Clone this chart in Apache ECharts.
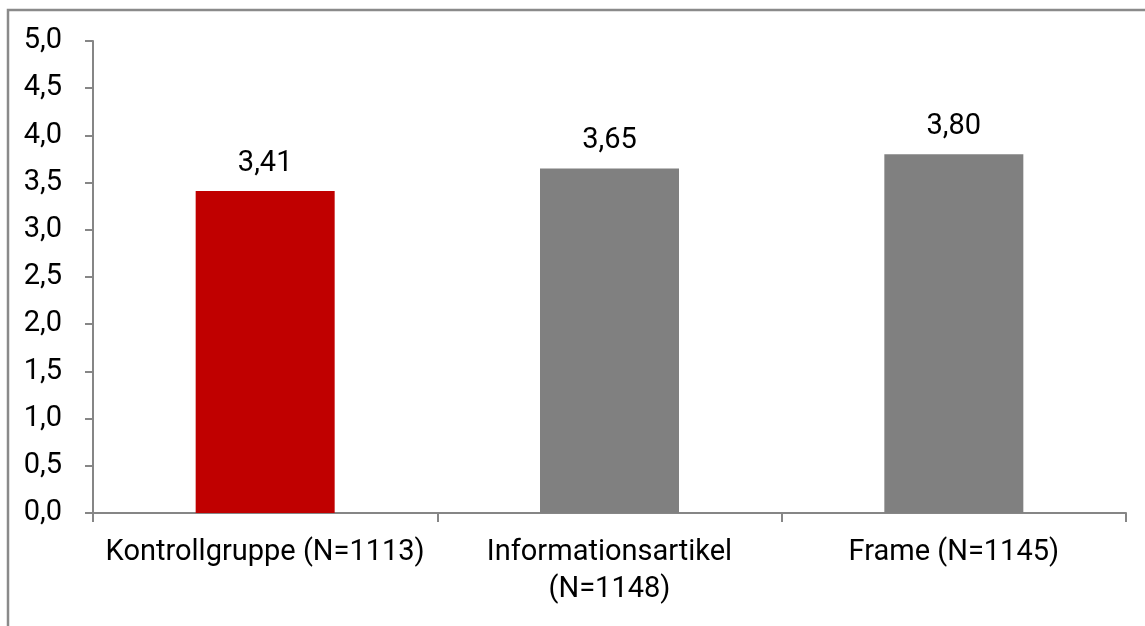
<!DOCTYPE html>
<html><head><meta charset="utf-8">
<script src="https://cdn.jsdelivr.net/npm/echarts@6/dist/echarts.min.js"></script>
<style>html,body{margin:0;padding:0;background:#fff}#c{width:1145px;height:626px}</style>
</head><body><div id="c"></div>
<script>
const categories = ['Kontrollgruppe (N=1113)', 'Informationsartikel\n(N=1148)', 'Frame (N=1145)'];
const values = [3.41, 3.65, 3.80];
const barColors = ['#C00000', '#808080', '#808080'];
const yMin = 0, yMax = 5, yStep = 0.5;

const chart = echarts.init(document.getElementById('c'), null, {renderer: 'canvas'});
const font = 'Roboto';
const fs = 29;
chart.setOption({
  animation: false,
  grid: {left: 93, top: 41, right: 19, bottom: 113},
  graphic: [{type: 'rect', shape: {x: 8, y: 10, width: 1300, height: 800},
    style: {fill: 'none', stroke: '#8a8a8a', lineWidth: 2.5}, silent: true}],
  xAxis: {
    type: 'category', data: categories,
    axisLine: {lineStyle: {color: '#868686', width: 2}},
    axisTick: {show: true, length: 9, lineStyle: {color: '#868686', width: 2}},
    axisLabel: {color: '#000', fontFamily: font, fontSize: fs, margin: 21, lineHeight: 37, interval: 0}
  },
  yAxis: {
    type: 'value', min: yMin, max: yMax, interval: yStep,
    axisLine: {show: true, lineStyle: {color: '#868686', width: 2}},
    axisTick: {show: true, length: 8, lineStyle: {color: '#868686', width: 2}},
    splitLine: {show: false},
    axisLabel: {color: '#000', fontFamily: font, fontSize: fs, margin: 31,
      formatter: v => v.toFixed(1).replace('.', ',')}
  },
  series: [{
    type: 'bar', barWidth: 139,
    data: values.map((v, i) => ({value: v, itemStyle: {color: barColors[i]}})),
    label: {show: true, position: 'top', distance: 13, color: '#000', fontFamily: font, fontSize: fs,
      formatter: p => p.value.toFixed(2).replace('.', ',')}
  }]
});
</script></body></html>
